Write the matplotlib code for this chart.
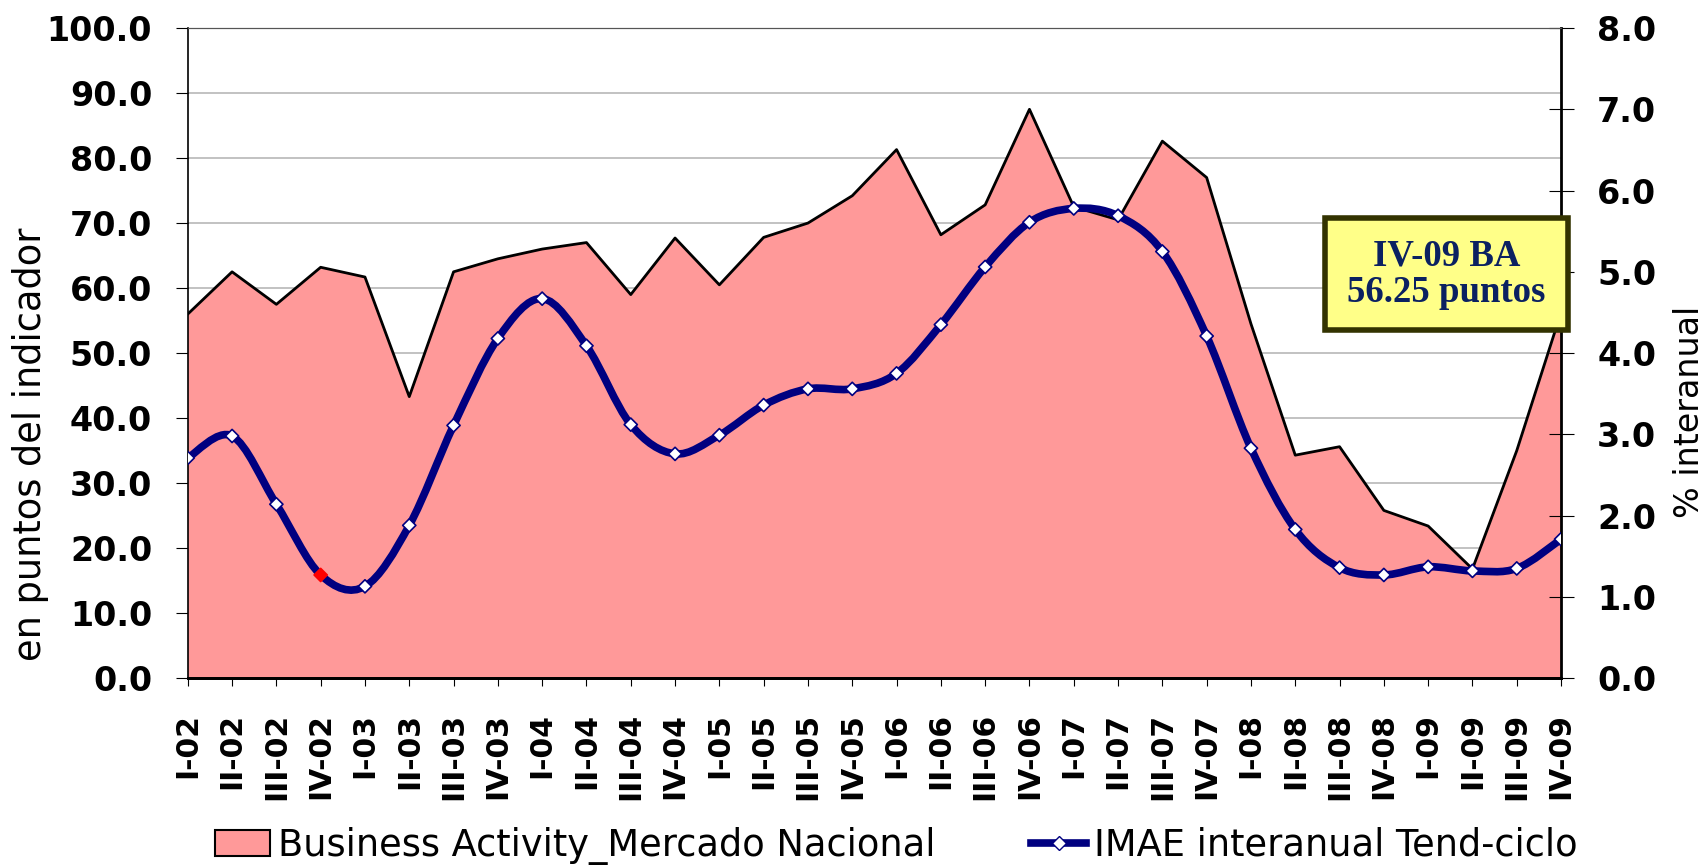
import numpy as np
import matplotlib
matplotlib.use("Agg")
import matplotlib.pyplot as plt
from matplotlib.path import Path
from matplotlib.patches import PathPatch, Patch, Rectangle
from matplotlib.lines import Line2D
from matplotlib.ticker import FormatStrFormatter

quarters = ["I-02", "II-02", "III-02", "IV-02", "I-03", "II-03", "III-03", "IV-03",
            "I-04", "II-04", "III-04", "IV-04", "I-05", "II-05", "III-05", "IV-05",
            "I-06", "II-06", "III-06", "IV-06", "I-07", "II-07", "III-07", "IV-07",
            "I-08", "II-08", "III-08", "IV-08", "I-09", "II-09", "III-09", "IV-09"]

# Business Activity (left axis, puntos)
business = [56.0, 62.5, 57.5, 63.2, 61.7, 43.3, 62.5, 64.5,
            66.0, 67.0, 59.0, 67.7, 60.5, 67.8, 70.0, 74.2,
            81.3, 68.2, 72.8, 87.5, 72.5, 70.5, 82.6, 77.0,
            54.5, 34.3, 35.6, 25.8, 23.4, 16.8, 35.0, 56.25]

# IMAE interanual tend-ciclo (right axis, %)
imae = [2.71, 2.98, 2.14, 1.27, 1.13, 1.88, 3.11, 4.18,
        4.67, 4.09, 3.12, 2.76, 2.99, 3.36, 3.56, 3.56,
        3.75, 4.35, 5.06, 5.61, 5.78, 5.69, 5.25, 4.21,
        2.83, 1.83, 1.36, 1.27, 1.37, 1.32, 1.35, 1.71]

NAVY = "#000080"
PINK = "#FF9999"


def smooth_path(xs, ys):
    # excel-like smoothed line: bezier segments through every point
    pts = np.column_stack([xs, ys]).astype(float)
    n = len(pts)
    verts = [pts[0]]
    codes = [Path.MOVETO]
    for i in range(n - 1):
        p0 = pts[i - 1] if i > 0 else pts[i]
        p1 = pts[i]
        p2 = pts[i + 1]
        p3 = pts[i + 2] if i + 2 < n else pts[i + 1]
        verts += [p1 + (p2 - p0) / 6, p2 - (p3 - p1) / 6, p2]
        codes += [Path.CURVE4] * 3
    return Path(verts, codes)


def main():
    fig = plt.figure(figsize=(17.07, 8.65), dpi=100)
    ax = fig.add_axes([0.110, 0.216, 0.8045, 0.7516])
    x = np.arange(len(quarters))

    ax.fill_between(x, business, 0, facecolor=PINK, edgecolor="none", zorder=1)
    ax.plot(x, business, color="black", lw=2, zorder=2)
    ax.set_xlim(0, len(quarters) - 1)
    ax.set_ylim(0, 100)
    ax.set_yticks(np.arange(0, 101, 10))
    ax.yaxis.set_major_formatter(FormatStrFormatter("%.1f"))
    ax.grid(axis="y", color="#bdbdbd", lw=1.3)
    ax.set_axisbelow(True)
    ax.set_xticks(x)
    ax.set_xticklabels(quarters, rotation=90, fontsize=21.5, fontweight="bold")
    ax.tick_params(axis="y", direction="out", length=8.6, pad=17, labelsize=24)
    ax.tick_params(axis="x", direction="out", length=6, pad=19)
    for lab in ax.get_yticklabels():
        lab.set_fontweight("bold")

    ax2 = ax.twinx()
    ax2.set_ylim(0, 8)
    ax2.set_yticks(np.arange(0, 9, 1))
    ax2.yaxis.set_major_formatter(FormatStrFormatter("%.1f"))
    ax2.tick_params(axis="y", direction="inout", length=18, pad=17, labelsize=24)
    for lab in ax2.get_yticklabels():
        lab.set_fontweight("bold")
    ax2.add_patch(PathPatch(smooth_path(x, imae), facecolor="none", edgecolor=NAVY,
                            lw=5.5, capstyle="round", zorder=3))
    mfc = ["red" if i == 3 else "white" for i in range(len(imae))]
    mec = ["red" if i == 3 else NAVY for i in range(len(imae))]
    ax2.scatter(x, imae, marker="D", s=45, c=mfc, edgecolors=mec, linewidths=1.2, zorder=4)

    for a in (ax, ax2):
        a.spines["top"].set_color("#555555")
        a.spines["bottom"].set_linewidth(2)
    ax.spines["right"].set_visible(False)
    ax2.spines["right"].set_linewidth(2)
    ax2.spines["left"].set_visible(False)
    ax.spines["left"].set_linewidth(1.2)

    fig.text(0.018, 0.486, "en puntos del indicador", rotation=90, fontsize=26.5,
             ha="center", va="center")
    fig.text(0.990, 0.524, "% interanual", rotation=90, fontsize=24,
             ha="center", va="center")

    # callout box
    fig.patches.append(Rectangle((0.776, 0.6185), 0.1424, 0.1295, transform=fig.transFigure,
                                 facecolor="#FFFF88", edgecolor="#333300", lw=4, zorder=5))
    fig.text(0.8473, 0.683, "IV-09 BA\n56.25 puntos", fontsize=26.5, fontweight="bold",
             family="Liberation Serif", color="#0B2161", ha="center", va="center",
             linespacing=1.05, zorder=6)

    handles = [Patch(facecolor=PINK, edgecolor="black", lw=1.5),
               Line2D([], [], color=NAVY, lw=5.5, marker="D", ms=7, mfc="white", mec=NAVY)]
    fig.legend(handles, ["Business Activity_Mercado Nacional", "IMAE interanual Tend-ciclo"],
               loc="center", bbox_to_anchor=(0.525, 0.022), ncol=2, frameon=False,
               fontsize=26.5, handlelength=1.5, handletextpad=0.2, columnspacing=2.6)

    fig.savefig("out.png", dpi=100)


if __name__ == "__main__":
    main()
